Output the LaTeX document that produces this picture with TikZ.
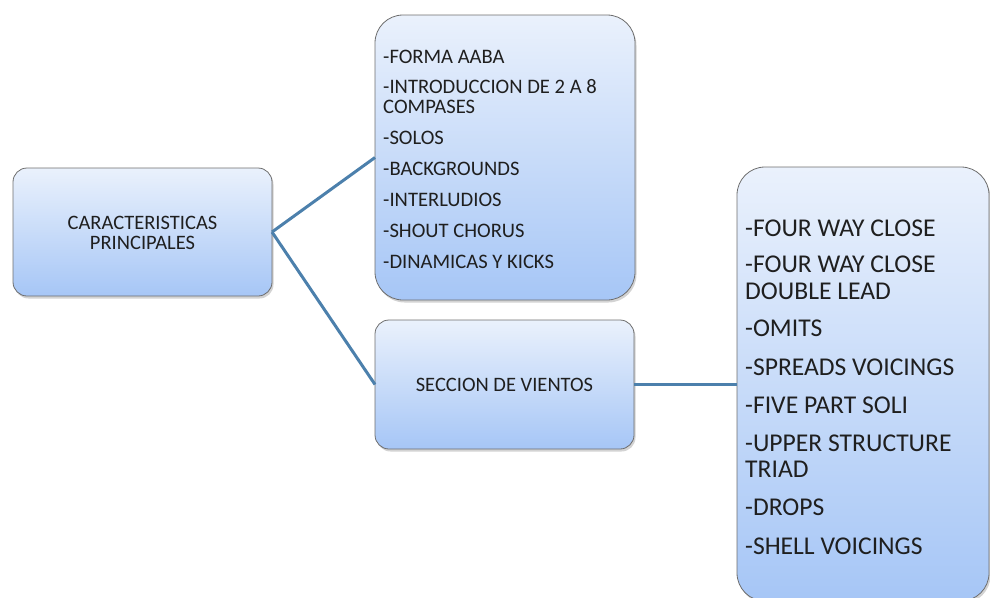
\documentclass[tikz,border=0pt]{standalone}
\usepackage{fontspec}
\setmainfont{Carlito}
\usetikzlibrary{shadows}
\definecolor{topc}{RGB}{234,241,252}
\definecolor{botc}{RGB}{166,198,246}
\definecolor{linec}{RGB}{76,128,172}
\definecolor{edgec}{RGB}{110,110,110}
\tikzset{
  box/.style={draw=edgec, line width=0.8pt, top color=topc, bottom color=botc,
    rounded corners=#1, inner sep=0pt, outer sep=0pt,
    drop shadow={opacity=0.35, shadow xshift=1.5pt, shadow yshift=-2.5pt}},
  conn/.style={draw=linec, line width=3pt},
  ctxt/.style={align=center, inner sep=0pt, text=black!88, font=\fontsize{20.5}{20}\selectfont},
  btxt/.style={anchor=base west, inner sep=0pt, text=black!88, font=\fontsize{20.6}{21}\selectfont},
  dtxt/.style={anchor=base west, inner sep=0pt, text=black!88, font=\fontsize{25.6}{27}\selectfont},
}
\begin{document}
\begin{tikzpicture}[x=1pt,y=-1pt]
\useasboundingbox (0,0) rectangle (990,597);
\node[box=14pt, minimum width=259pt, minimum height=128pt] (A) at (142.5,232) {};
\node[box=28pt, minimum width=260pt, minimum height=285pt] (B) at (505,157.5) {};
\node[box=14pt, minimum width=259pt, minimum height=129pt] (C) at (504.5,384.5) {};
\node[box=28pt, minimum width=252pt, minimum height=434pt] (D) at (863,384) {};
\draw[conn] (A.east) -- (B.west);
\draw[conn] (A.east) -- (C.west);
\draw[conn] (C.east) -- (D.west |- C.east);
\node[ctxt] (At) at ([yshift=-1pt]A.center) {CARACTERISTICAS\\PRINCIPALES};
\node[ctxt] (Ct) at (C.center) {SECCION DE VIENTOS};
\node[btxt] (b1) at (383,63) {-FORMA AABA};
\node[btxt] (b2) at (383,93) {-INTRODUCCION DE 2 A 8};
\node[btxt] (b3) at (383,113) {COMPASES};
\node[btxt] (b4) at (383,144) {-SOLOS};
\node[btxt] (b5) at (383,175) {-BACKGROUNDS};
\node[btxt] (b6) at (383,206) {-INTERLUDIOS};
\node[btxt] (b7) at (383,237) {-SHOUT CHORUS};
\node[btxt] (b8) at (383,268) {-DINAMICAS Y KICKS};
\node[dtxt] (d1) at (745,236) {-FOUR WAY CLOSE};
\node[dtxt] (d2) at (745,272) {-FOUR WAY CLOSE};
\node[dtxt] (d3) at (745,299) {DOUBLE LEAD};
\node[dtxt] (d4) at (745,336) {-OMITS};
\node[dtxt] (d5) at (745,375) {-SPREADS VOICINGS};
\node[dtxt] (d6) at (745,413) {-FIVE PART SOLI};
\node[dtxt] (d7) at (745,451) {-UPPER STRUCTURE};
\node[dtxt] (d8) at (745,477) {TRIAD};
\node[dtxt] (d9) at (745,515) {-DROPS};
\node[dtxt] (d10) at (745,554) {-SHELL VOICINGS};
\end{tikzpicture}
\end{document}
